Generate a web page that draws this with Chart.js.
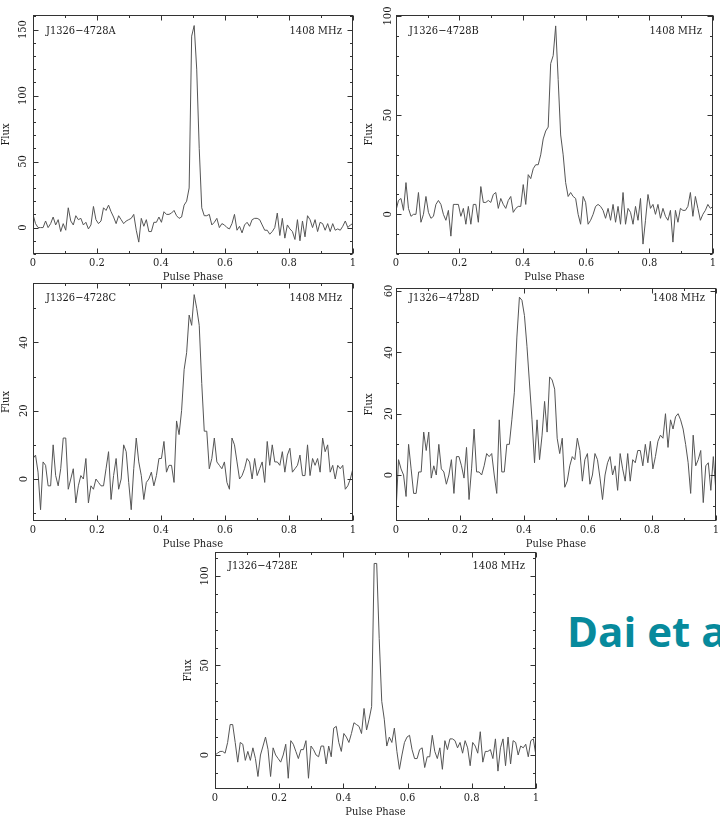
<!DOCTYPE html>
<html>
<head>
<meta charset="utf-8">
<script src="https://cdn.jsdelivr.net/npm/chart.js@4.4.1/dist/chart.umd.min.js"></script>
<style>
  html, body { margin: 0; padding: 0; background: #fff; }
  body { width: 720px; height: 817px; position: relative; overflow: hidden; }
  canvas { position: absolute; }
  #credit {
    position: absolute; left: 567px; top: 610px;
    font: bold 42px "Open Sans", sans-serif; line-height: 42px;
    color: #078a9c; white-space: nowrap;
  }
</style>
</head>
<body>
<div id="credit">Dai et al.</div>
<script>
// pulse phase grid: 128 bins across one rotation
const phaseBins = 128;
const phase = Array.from({ length: phaseBins }, (_, i) => i / (phaseBins - 1));

const xTicks = [0, 0.2, 0.4, 0.6, 0.8, 1];
const xTickLabels = ['0', '0.2', '0.4', '0.6', '0.8', '1'];
const xMinorTicks = [0.1, 0.3, 0.5, 0.7, 0.9];

const pulsarNames = ['J1326−4728A', 'J1326−4728B', 'J1326−4728C', 'J1326−4728D', 'J1326−4728E'];
const observingBand = '1408 MHz';

// integrated profiles (arbitrary flux units)
const fluxA = [10, 3, 0, 0, 0, 5, 0, 3, 8, 2, 6, -3, 3, -2, 15, 5, 2, 9, 6, 7,
  2, 4, -1, 2, 16, 6, 3, 5, 15, 13, 17, 12, 8, 3, 9, 6, 3, 5, 6, 7,
  10, -2, -11, 7, 1, 6, -3, -3, 4, 4, 8, 4, 12, 10, 10, 11, 13, 9, 7, 8,
  17, 20, 30, 145, 153, 120, 60, 15, 9, 9, 10, 2, 4, 7, 0, 3, 2, 0, -1, 3,
  10, -2, 1, -4, 2, 4, 1, 6, 7, 7, 6, 2, -2, -2, -5, -3, 0, 11, -6, 7,
  -8, 2, -1, -3, -9, 6, -10, 5, -7, 9, 6, 0, 6, -3, 4, 3, -2, 3, -3, 3,
  -2, -1, -2, 1, 5, 0, 2, 3];
const fluxB = [2, 7, 8, 2, 16, 3, -1, 0, 0, 11, -4, 0, 9, 1, -2, -1, 5, 7, 5, 0,
  -3, 2, -11, 5, 5, 5, -1, 3, -5, 4, -5, 5, 5, -4, 14, 6, 6, 7, 6, 10,
  11, 3, 8, 5, 3, 7, 9, 1, 3, 4, 4, 15, 5, 20, 18, 23, 25, 25, 30, 38,
  42, 44, 76, 80, 95, 68, 40, 30, 16, 9, 11, 9, 8, 0, -5, 9, 6, -5, -3, 0,
  4, 5, 4, 2, -2, 3, -3, 5, -4, 4, -5, 11, -5, 3, 1, -5, 4, -3, 8, -15,
  -3, 10, 3, 5, 0, 5, -2, 3, -1, -3, 2, -14, 2, -4, 3, 2, 2, 4, 11, -1,
  9, 3, -3, 0, 2, 5, 3, 4];
const fluxC = [6, 7, 2, -9, 5, 4, -2, -2, 10, 1, -2, 3, 12, 12, -3, 0, 3, -7, -2, 1,
  0, 6, -7, -2, -3, 0, -1, -2, -2, 3, 8, -6, 1, 6, -3, 0, 10, 8, -1, -9,
  3, 12, 5, 1, -6, -1, 0, 2, -2, 1, 6, 6, 11, 2, 4, 4, -1, 17, 13, 20,
  32, 37, 48, 45, 54, 50, 45, 28, 14, 14, 3, 6, 12, 5, 4, 3, 5, -1, -3, 12,
  10, 5, 0, 1, 3, 6, 5, 0, 6, 1, 3, 5, -1, 11, 4, 10, 5, 5, 4, 8,
  2, 7, 9, 2, 3, 4, 7, 1, 1, 10, 1, 6, 4, 6, 2, 12, 8, 10, 2, 4,
  0, 4, 3, 4, -3, -2, 0, 3];
const fluxD = [-12, 5, 2, 0, -7, 10, 2, -6, -6, 1, 1, 14, 8, 14, -1, 3, 0, 10, 2, 1,
  -3, 0, 5, -6, 6, 6, 3, -1, 9, -8, 2, 15, 1, 1, 0, 3, 7, 6, 7, 0,
  -6, 18, 1, 1, 10, 10, 18, 27, 45, 58, 57, 52, 42, 30, 18, 4, 18, 5, 13, 24,
  14, 32, 31, 28, 12, 7, 12, -4, -2, 3, 6, 5, 12, 8, -2, 5, 7, -3, 0, 7,
  5, -1, -8, 0, 4, 6, 0, 3, -5, 7, 2, -2, 7, -2, 5, 4, 8, 8, 3, 10,
  4, 11, 2, 6, 11, 13, 12, 20, 9, 18, 15, 19, 20, 18, 15, 10, 4, -6, 13, 3,
  5, 8, -9, 3, 4, -5, 6, -5];
const fluxE = [0, 1, 2, 2, 1, 7, 17, 17, 7, -4, 7, 6, -3, 2, -3, 4, -2, -12, 0, 5,
  10, 3, -12, 4, 0, -2, -4, 0, 6, -13, 8, 6, 2, -2, 3, 3, 8, -13, 5, 3,
  0, -1, 5, 5, -5, 5, -1, 15, 16, 7, 2, 12, 10, 7, 12, 18, 17, 16, 12, 26,
  14, 20, 27, 107, 107, 65, 30, 20, 5, 10, 7, 15, 2, -8, 0, 7, 10, 11, 3, -2,
  -2, 3, 4, -7, -1, -1, 11, 2, -2, 4, -8, 8, 3, 9, 9, 8, 4, 7, 1, 8,
  4, -6, 7, 5, 1, 13, -4, 2, 2, 3, -2, 9, -9, 4, 9, -6, 10, -5, 8, 7,
  0, 5, 4, 6, -1, 8, 9, 0];

const yTicksA = [0, 50, 100, 150];
const yTicksB = [0, 50, 100];
const yTicksC = [0, 20, 40];
const yTicksD = [0, 20, 40, 60];
const yTicksE = [0, 50, 100];

const yRangeA = [-20, 161];
const yRangeB = [-20, 100.5];
const yRangeC = [-12.3, 57.4];
const yRangeD = [-15, 61];
const yRangeE = [-19, 113.4];

// plot frames on the page: [left, top, right, bottom]
const panels = [
  { flux: fluxA, name: pulsarNames[0], yTicks: yTicksA, yRange: yRangeA, box: [33, 15, 354, 254], labelPad: 0.5, nameDy: 16 },
  { flux: fluxB, name: pulsarNames[1], yTicks: yTicksB, yRange: yRangeB, box: [396, 15, 714, 254], labelPad: -1.5, nameDy: 16 },
  { flux: fluxC, name: pulsarNames[2], yTicks: yTicksC, yRange: yRangeC, box: [33, 283, 354, 521], labelPad: 2.5, nameDy: 15 },
  { flux: fluxD, name: pulsarNames[3], yTicks: yTicksD, yRange: yRangeD, box: [396, 288, 717, 521], labelPad: 0.5, nameDy: 10 },
  { flux: fluxE, name: pulsarNames[4], yTicks: yTicksE, yRange: yRangeE, box: [215, 552, 537, 789], labelPad: 0.5, nameDy: 14 },
];

const AXIS_W = 33, AXIS_H = 30, PAD_TOP = 10, PAD_RIGHT = 5;
const INK = '#1c1c1c';
const SERIF = '"DejaVu Serif Condensed", "DejaVu Serif", serif';

Chart.defaults.font.family = SERIF;
Chart.defaults.font.size = 11;
Chart.defaults.color = INK;

// PGPLOT-style box: closed frame with inward major/minor ticks on all sides
const pgFrame = {
  id: 'pgFrame',
  afterDatasetsDraw(chart, args, opts) {
    const { ctx, chartArea: a, scales: { x, y } } = chart;
    const L = Math.round(a.left) + 0.5, R = Math.round(a.right) - 0.5;
    const T = Math.round(a.top) + 0.5, B = Math.round(a.bottom) - 0.5;
    ctx.save();
    ctx.strokeStyle = '#333';
    ctx.lineWidth = 1;
    ctx.strokeRect(L, T, R - L, B - T);

    const tick = (x1, y1, x2, y2) => { ctx.moveTo(x1, y1); ctx.lineTo(x2, y2); };
    ctx.beginPath();
    xTicks.concat(xMinorTicks).forEach(v => {
      const len = xTicks.includes(v) ? 5 : 2.5;
      const px = Math.round(x.getPixelForValue(v)) + 0.5;
      tick(px, B, px, B - len);
      tick(px, T, px, T + len);
    });
    const [lo, hi] = opts.yRange;
    for (let v = Math.ceil(lo / 10) * 10; v <= hi; v += 10) {
      const len = opts.yTicks.includes(v) ? 5 : 2.5;
      const py = Math.round(y.getPixelForValue(v)) + 0.5;
      tick(L, py, L + len, py);
      tick(R, py, R - len, py);
    }
    ctx.stroke();

    ctx.fillStyle = INK;
    ctx.font = '11px ' + SERIF;
    ctx.textBaseline = 'middle';
    ctx.textAlign = 'left';
    ctx.fillText(opts.name, a.left + 13, a.top + opts.nameDy);
    ctx.textAlign = 'right';
    ctx.fillText(observingBand, a.right - 11, a.top + opts.nameDy);
    ctx.restore();
  }
};

panels.forEach(p => {
  const [l, t, r, b] = p.box;
  const canvas = document.createElement('canvas');
  canvas.width = r - l + AXIS_W + PAD_RIGHT;
  canvas.height = b - t + PAD_TOP + AXIS_H;
  canvas.style.left = (l - AXIS_W) + 'px';
  canvas.style.top = (t - PAD_TOP) + 'px';
  document.body.appendChild(canvas);

  new Chart(canvas.getContext('2d'), {
    type: 'line',
    data: {
      datasets: [{
        data: phase.map((ph, i) => ({ x: ph, y: p.flux[i] })),
        borderColor: '#555',
        borderWidth: 1,
        pointRadius: 0,
        tension: 0,
        fill: false,
      }],
    },
    options: {
      responsive: false,
      animation: false,
      devicePixelRatio: 1,
      layout: { padding: { top: PAD_TOP, right: PAD_RIGHT, left: 0, bottom: 0 } },
      plugins: {
        legend: { display: false },
        tooltip: { enabled: false },
        pgFrame: { name: p.name, yTicks: p.yTicks, yRange: p.yRange, nameDy: p.nameDy },
      },
      scales: {
        x: {
          type: 'linear',
          min: 0,
          max: 1,
          grid: { display: false, drawTicks: false },
          border: { display: false },
          afterBuildTicks: s => { s.ticks = xTicks.map(v => ({ value: v })); },
          afterFit: s => { s.height = AXIS_H; },
          ticks: {
            padding: 3,
            maxRotation: 0,
            callback: (v, i) => xTickLabels[i],
          },
          title: { display: true, text: 'Pulse Phase', padding: 0 },
        },
        y: {
          type: 'linear',
          min: p.yRange[0],
          max: p.yRange[1],
          grid: { display: false, drawTicks: false },
          border: { display: false },
          afterBuildTicks: s => { s.ticks = p.yTicks.map(v => ({ value: v })); },
          afterFit: s => { s.width = AXIS_W; },
          ticks: {
            padding: p.labelPad,
            minRotation: 90,
            maxRotation: 90,
            crossAlign: 'center',
            callback: v => String(v),
          },
          title: { display: true, text: 'Flux', padding: 0 },
        },
      },
    },
    plugins: [pgFrame],
  });
});
</script>
</body>
</html>
